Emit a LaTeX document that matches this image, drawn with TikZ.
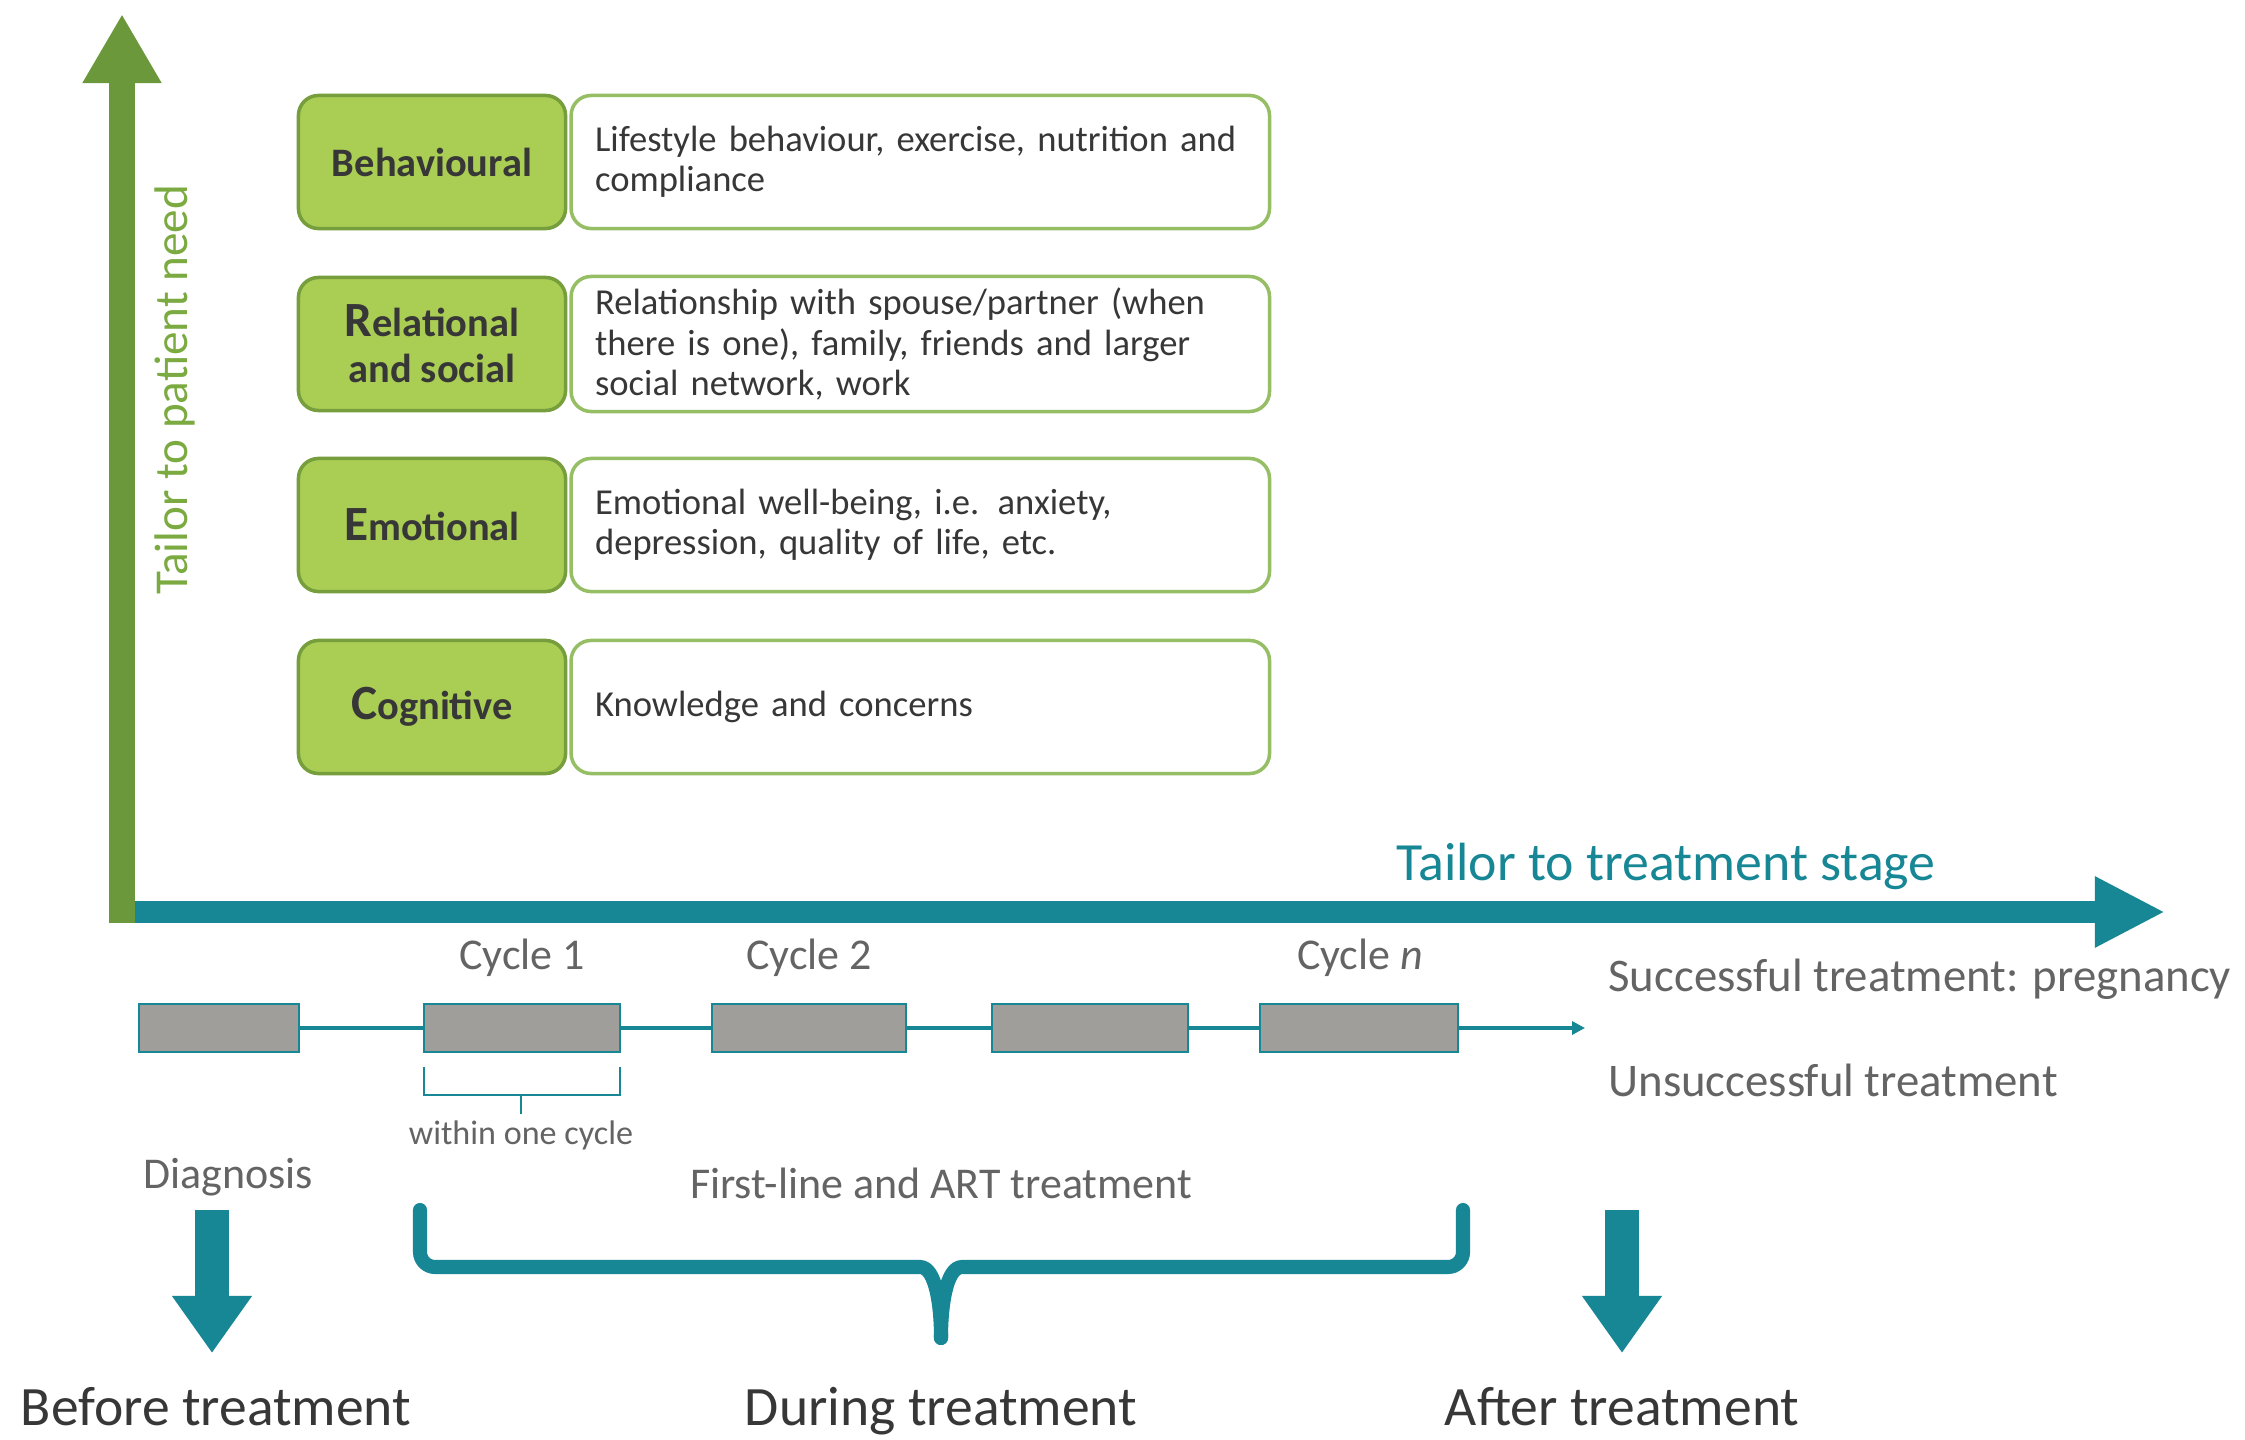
\documentclass[tikz,border=0pt]{standalone}
\usepackage{fontspec}
\setmainfont{Carlito}
\usetikzlibrary{positioning, arrows.meta}
\definecolor{tealc}{RGB}{23,135,150}
\definecolor{needgreen}{RGB}{106,152,58}
\definecolor{needtext}{RGB}{122,170,64}
\definecolor{catfill}{RGB}{170,205,84}
\definecolor{catborder}{RGB}{118,158,60}
\definecolor{descborder}{RGB}{150,190,100}
\definecolor{cyclegray}{RGB}{160,158,155}
\definecolor{darktext}{RGB}{55,55,55}
\definecolor{graytext}{RGB}{100,100,100}
\newcommand{\initcap}[1]{{\fontsize{14}{14}\selectfont #1}}

\begin{document}
\begin{tikzpicture}[x=0.01cm, y=-0.01cm,
    catbox/.style={draw=catborder, fill=catfill, line width=1pt, rounded corners=0.2cm,
                   minimum width=2.67cm, minimum height=1.33cm, align=center,
                   font=\fontsize{11.5}{13}\selectfont\bfseries, text=darktext},
    descbox/.style={draw=descborder, fill=white, line width=1pt, rounded corners=0.2cm,
                    minimum height=1.33cm, text width=6.5cm, inner xsep=0.24cm, align=left,
                    font=\fontsize{10.4}{11.4}\selectfont, text=darktext},
    cyclebox/.style={draw=tealc, fill=cyclegray, line width=0.6pt, minimum height=0.48cm, inner sep=0pt},
    lbl/.style={font=\fontsize{12.5}{14}\selectfont, text=graytext},
    phase/.style={font=\fontsize{15.8}{18}\selectfont, text=darktext, anchor=base},
    tline/.style={draw=tealc, line width=1.1pt},
    phasearrow/.style={draw=tealc, line width=0.34cm, -{Triangle[length=0.57cm, width=0.76cm]}},
    bigbrace/.style={draw=tealc, line width=4pt, rounded corners=0.15cm, line cap=round}]

    \fill[white] (0,0) rectangle (2245,1440);
    \useasboundingbox (0,0) rectangle (2245,1440);

    % axes
    \coordinate (origin) at (122,923);
    \coordinate (needtip) at (122,14);
    \coordinate (stagestart) at (134,912);
    \coordinate (stagetip) at (2165,912);
    \draw[draw=tealc, line width=0.21cm, -{Triangle[length=0.70cm, width=0.66cm]}] (stagestart) -- (stagetip);
    \draw[draw=needgreen, line width=0.25cm, -{Triangle[length=0.69cm, width=0.74cm]}] (origin) -- (needtip);

    \node[rotate=90, font=\fontsize{13.4}{15}\selectfont, text=needtext] (needlbl) at (175,390) {Tailor to patient need};
    \node[font=\fontsize{15.3}{17}\selectfont, text=tealc] (stagelbl) at (1666,866) {Tailor to treatment stage};

    % patient need categories
    \node[catbox] (beh) at (432,162) {Behavioural};
    \node[descbox, right=0.02cm of beh] (behtxt) {Lifestyle behaviour, exercise, nutrition and\\compliance};
    \node[catbox] (rel) at (432,344) {\initcap{R}elational\\and social};
    \node[descbox, right=0.02cm of rel] (reltxt) {Relationship with spouse/partner (when\\there is one), family, friends and larger\\social network, work};
    \node[catbox] (emo) at (432,525) {\initcap{E}motional};
    \node[descbox, right=0.02cm of emo] (emotxt) {Emotional well-being, i.e. anxiety,\\depression, quality of life, etc.};
    \node[catbox] (cog) at (432,707) {\initcap{C}ognitive};
    \node[descbox, right=0.02cm of cog] (cogtxt) {Knowledge and concerns};

    % treatment timeline
    \node[cyclebox, minimum width=1.60cm] (diag) at (219,1028) {};
    \node[cyclebox, minimum width=1.96cm] (cy1) at (522,1028) {};
    \node[cyclebox, minimum width=1.94cm] (cy2) at (809,1028) {};
    \node[cyclebox, minimum width=1.96cm] (cy3) at (1090,1028) {};
    \node[cyclebox, minimum width=1.98cm] (cyn) at (1359,1028) {};
    \coordinate (tlend) at (1585,1028);
    \draw[tline] (diag) -- (cy1) -- (cy2) -- (cy3) -- (cyn);
    \draw[tline, -{Triangle[length=0.13cm, width=0.13cm]}] (cyn) -- (tlend);

    \node[lbl] (cy1lbl) at (522,958) {Cycle 1};
    \node[lbl] (cy2lbl) at (809,958) {Cycle 2};
    \node[lbl] (cynlbl) at (1360,958) {Cycle \textit{n}};
    \node[lbl, font=\fontsize{13.3}{15}\selectfont, anchor=west] (succ) at (1596,979) {Successful treatment: pregnancy};
    \node[lbl, font=\fontsize{13.3}{15}\selectfont, anchor=west] (unsucc) at (1596,1080) {Unsuccessful treatment};

    \draw[draw=tealc, line width=0.6pt] (424,1067) -- (424,1095) -- (620,1095) -- (620,1067);
    \draw[draw=tealc, line width=0.6pt] (521,1095) -- (521,1114);
    \node[lbl, font=\fontsize{9.7}{11}\selectfont] (within) at (521,1135) {within one cycle};

    \node[lbl] (diaglbl) at (228,1177) {Diagnosis};
    \node[lbl] (artlbl) at (941,1183) {First-line and ART treatment};

    % stages
    \coordinate (beforetop) at (212,1210);
    \coordinate (beforetip) at (212,1353);
    \coordinate (aftertop) at (1622,1210);
    \coordinate (aftertip) at (1622,1353);
    \draw[phasearrow] (beforetop) -- (beforetip);
    \draw[phasearrow] (aftertop) -- (aftertip);
    \draw[bigbrace] (420,1210) |- (905,1267) to[out=0, in=90] (941,1338);
    \draw[bigbrace] (1463,1210) |- (977,1267) to[out=180, in=90] (941,1338);

    \node[phase] (before) at (216,1425) {Before treatment};
    \node[phase] (during) at (941,1425) {During treatment};
    \node[phase] (after) at (1622,1425) {After treatment};
\end{tikzpicture}
\end{document}
